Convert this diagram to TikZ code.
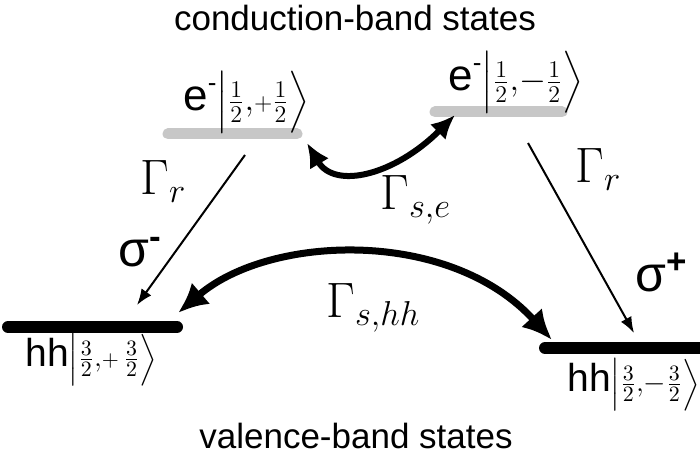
\documentclass[tikz,border=0pt]{standalone}
\usepackage{amsmath}
\usepackage{fontspec}
\setsansfont{Liberation Sans}
\usetikzlibrary{arrows.meta}
\newcommand{\esym}{{\sffamily\fontsize{22}{24}\selectfont e\raisebox{0.45em}{\fontsize{13}{13}\selectfont -}}}
\newcommand{\hhsym}{{\sffamily\fontsize{19.5}{22}\selectfont hh}}
\begin{document}
\begin{tikzpicture}[x=0.5pt,y=-0.5pt,
  gbar/.style={line width=5.5pt,line cap=round,draw=black!22},
  kbar/.style={line width=6pt,line cap=round,draw=black},
  radarrow/.style={line width=1pt,-{Latex[length=8pt,width=6pt]}},
  searrow/.style={line width=3pt,{Latex[length=12pt,width=11pt]}-{Latex[length=12pt,width=11pt]}},
  hharrow/.style={line width=3.5pt,{Latex[length=15pt,width=14pt]}-{Latex[length=15pt,width=14pt]}},
  bandtitle/.style={font=\fontsize{17.5}{20}\selectfont\sffamily,anchor=base,inner sep=0pt},
  ratelbl/.style={font=\fontsize{27}{32}\selectfont,anchor=base west,inner sep=0pt},
  siglbl/.style={font=\fontsize{25}{30}\selectfont\sffamily,anchor=base west,inner sep=0pt},
  elbl/.style={font=\fontsize{18}{20}\selectfont,anchor=base west,inner sep=0pt},
  hlbl/.style={font=\fontsize{15}{18}\selectfont,anchor=base west,inner sep=0pt}]
\useasboundingbox (0,0) rectangle (700,458);

% titles
\node[bandtitle] (ctitle) at (355,31) {conduction-band states};
\node[bandtitle] (vtitle) at (356,448) {valence-band states};

% levels
\coordinate (eLa) at (168,134); \coordinate (eLb) at (297,134);
\coordinate (eRa) at (435,112); \coordinate (eRb) at (562,112);
\coordinate (hLa) at (8,327);   \coordinate (hLb) at (177,327);
\coordinate (hRa) at (545,348); \coordinate (hRb) at (720,348);
\draw[gbar] (eLa) -- (eLb);
\draw[gbar] (eRa) -- (eRb);
\draw[kbar] (hLa) -- (hLb);
\draw[kbar] (hRa) -- (hRb);

% state labels
\node[elbl] (eL) at (183,111) {\esym$\Bigl|\tfrac{1}{2},\!{\scriptstyle+}\tfrac{1}{2}\Bigr\rangle$};
\node[elbl] (eR) at (448,91) {\esym$\Bigl|\tfrac{1}{2},\!-\tfrac{1}{2}\Bigr\rangle$};
\node[hlbl] (hL) at (25,367) {\hhsym$\Bigl|\tfrac{3}{2},\!{\scriptstyle+}\,\tfrac{3}{2}\Bigr\rangle$};
\node[hlbl] (hR) at (567,392) {\hhsym$\Bigl|\tfrac{3}{2},\!-\tfrac{3}{2}\Bigr\rangle$};

% radiative transitions
\coordinate (rLs) at (245,155); \coordinate (rLe) at (137,305);
\coordinate (rRs) at (528,143); \coordinate (rRe) at (634,333);
\draw[radarrow] (rLs) -- (rLe);
\draw[radarrow] (rRs) -- (rRe);
\node[ratelbl] (GrL) at (140,195) {$\Gamma_r$};
\node[ratelbl] (GrR) at (575,183) {$\Gamma_r$};
\node[siglbl] (sL) at (118,267) {σ\textsuperscript{\bfseries -}};
\node[siglbl] (sR) at (635,292) {σ\textsuperscript{\bfseries +}};

% spin flips
\coordinate (seA) at (307,143); \coordinate (seB) at (455,115);
\draw[searrow] (seA) .. controls (335,190) and (395,175) .. (seB);
\node[ratelbl] (Gse) at (380,210) {$\Gamma_{s,e}$};
\coordinate (shA) at (178,313); \coordinate (shB) at (552,340);
\draw[hharrow] (shA) .. controls (270,234) and (450,228) .. (shB);
\node[ratelbl] (Gsh) at (326,318) {$\Gamma_{s,hh}$};
\end{tikzpicture}
\end{document}
